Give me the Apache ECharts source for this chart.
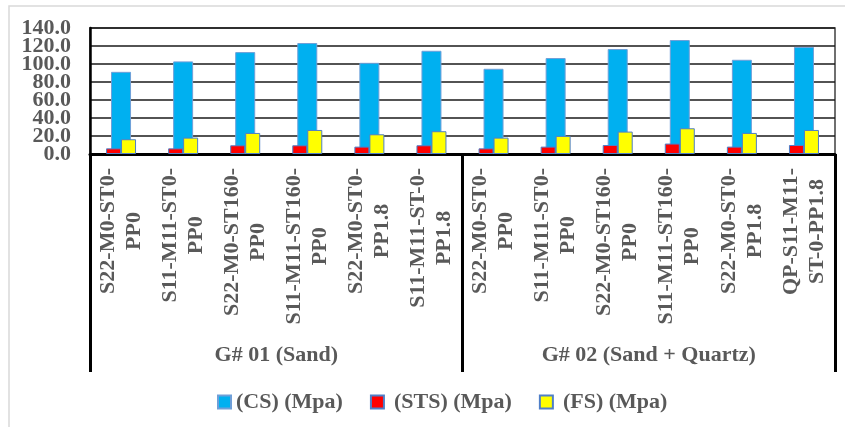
<!DOCTYPE html>
<html>
<head>
<meta charset="utf-8">
<script src="https://cdn.jsdelivr.net/npm/echarts@6/dist/echarts.min.js"></script>
<style>
  html, body { margin: 0; padding: 0; background: #fff; }
  #chart { width: 845px; height: 427px; }
</style>
</head>
<body>
<div id="chart"></div>
<script>
// Mix designations (lower axis level), wrapped onto two lines
const categories = [
  'S22-M0-ST0-\nPP0', 'S11-M11-ST0-\nPP0', 'S22-M0-ST160-\nPP0',
  'S11-M11-ST160-\nPP0', 'S22-M0-ST0-\nPP1.8', 'S11-M11-ST-0-\nPP1.8',
  'S22-M0-ST0-\nPP0', 'S11-M11-ST0-\nPP0', 'S22-M0-ST160-\nPP0',
  'S11-M11-ST160-\nPP0', 'S22-M0-ST0-\nPP1.8', 'QP-S11-M11-\nST-0-PP1.8'
];
// Aggregate groups (upper axis level)
const groups = ['G# 01 (Sand)', 'G# 02 (Sand + Quartz)'];

const seriesNames = ['(CS) (Mpa)', '(STS) (Mpa)', '(FS) (Mpa)'];
const csValues  = [91.3, 102.9, 113.2, 123.3, 101.3, 114.7, 94.7, 106.6, 116.6, 126.6, 104.7, 119.0];
const stsValues = [6.3, 6.3, 9.7, 9.7, 8.2, 9.7, 6.3, 8.2, 10.0, 11.6, 8.2, 10.0];
const fsValues  = [16.4, 18.2, 23.4, 26.7, 21.9, 25.3, 18.2, 20.1, 24.9, 28.6, 23.4, 26.7];

const yMin = 0, yMax = 140, yStep = 20;

const FONT = "'Liberation Serif', 'Times New Roman', serif";
const TEXT_GRAY = '#595959';
const baseText = { fontFamily: FONT, fontSize: 22, fontWeight: 'bold', color: TEXT_GRAY };

const isEnd = v => v === yMin || v === yMax;

const chart = echarts.init(document.getElementById('chart'), null, { renderer: 'canvas' });

chart.setOption({
  animation: false,
  backgroundColor: '#fff',
  graphic: [{
    type: 'rect',
    silent: true,
    z: -10,
    shape: { x: 9, y: 6, width: 1000, height: 1000 },
    style: { fill: 'none', stroke: '#d9d9d9', lineWidth: 1.5 }
  }],
  grid: {
    left: 90, right: 10, top: 28, bottom: 273,
    show: true, borderColor: '#404040', borderWidth: 1.5,
    backgroundColor: 'transparent'
  },
  legend: {
    left: 212, top: 386,
    itemWidth: 13, itemHeight: 13, itemGap: 27,
    icon: 'rect',
    textStyle: baseText,
    data: [
      { name: seriesNames[0] },
      { name: seriesNames[1], textStyle: { padding: [0, 0, 0, 5] } },
      { name: seriesNames[2], textStyle: { padding: [0, 0, 0, 5] } }
    ]
  },
  xAxis: [
    {
      // sample-level categories
      type: 'category',
      data: categories,
      position: 'bottom',
      axisLine: { show: true, onZero: false, lineStyle: { color: '#000', width: 3 } },
      axisTick: { show: false },
      axisLabel: {
        interval: 0,
        rotate: 90,
        margin: 14,
        formatter: v => v.split('\n').map(s => '{c|' + s + '}').join('\n'),
        rich: {
          c: Object.assign({ align: 'center', lineHeight: 26 }, baseText)
        }
      }
    },
    {
      // group-level categories with separators
      type: 'category',
      data: groups,
      position: 'bottom',
      offset: 218,
      axisLine: { show: false, onZero: false },
      axisTick: {
        show: true, inside: true, length: 218, interval: 0,
        lineStyle: { color: '#000', width: 3 }
      },
      axisLabel: Object.assign({ interval: 0, margin: -28 }, baseText)
    },
    {
      // carrier axis for the wider CS bars
      type: 'category',
      data: categories,
      show: false,
      axisLine: { onZero: false }
    }
  ],
  yAxis: [
    {
      // main value axis: line, grid lines and the inner tick labels
      type: 'value',
      min: yMin, max: yMax, interval: yStep,
      axisLine: { show: true, lineStyle: { color: '#000', width: 2.5 } },
      axisTick: { show: false },
      axisLabel: Object.assign({
        margin: 19,
        showMinLabel: false,
        showMaxLabel: false,
        formatter: v => v.toFixed(1)
      }, baseText),
      splitLine: { show: true, lineStyle: { color: '#1a1a1a', width: 1.5 } }
    },
    {
      // same scale, carries only the end labels (0.0 and 140.0)
      type: 'value',
      position: 'left',
      min: yMin, max: yMax, interval: yStep,
      axisLine: { show: false },
      axisTick: { show: false },
      splitLine: { show: false },
      axisLabel: Object.assign({
        margin: 19,
        showMinLabel: true,
        showMaxLabel: true,
        formatter: v => isEnd(v) ? v.toFixed(1) : ''
      }, baseText)
    }
  ],
  series: [
    {
      name: seriesNames[0], type: 'bar', xAxisIndex: 2, yAxisIndex: 0,
      data: csValues, barWidth: 20,
      itemStyle: { color: '#00B0F0', borderColor: '#6f9fd8', borderWidth: 1 }
    },
    {
      name: seriesNames[1], type: 'bar', xAxisIndex: 0, yAxisIndex: 0,
      data: stsValues, barWidth: 15, barGap: '0%',
      itemStyle: { color: '#FF0000', borderColor: '#4f7fc8', borderWidth: 1 }
    },
    {
      name: seriesNames[2], type: 'bar', xAxisIndex: 0, yAxisIndex: 0,
      data: fsValues, barWidth: 15, barGap: '0%',
      itemStyle: { color: '#FFFF00', borderColor: '#4f7fc8', borderWidth: 1 }
    }
  ]
});
</script>
</body>
</html>
